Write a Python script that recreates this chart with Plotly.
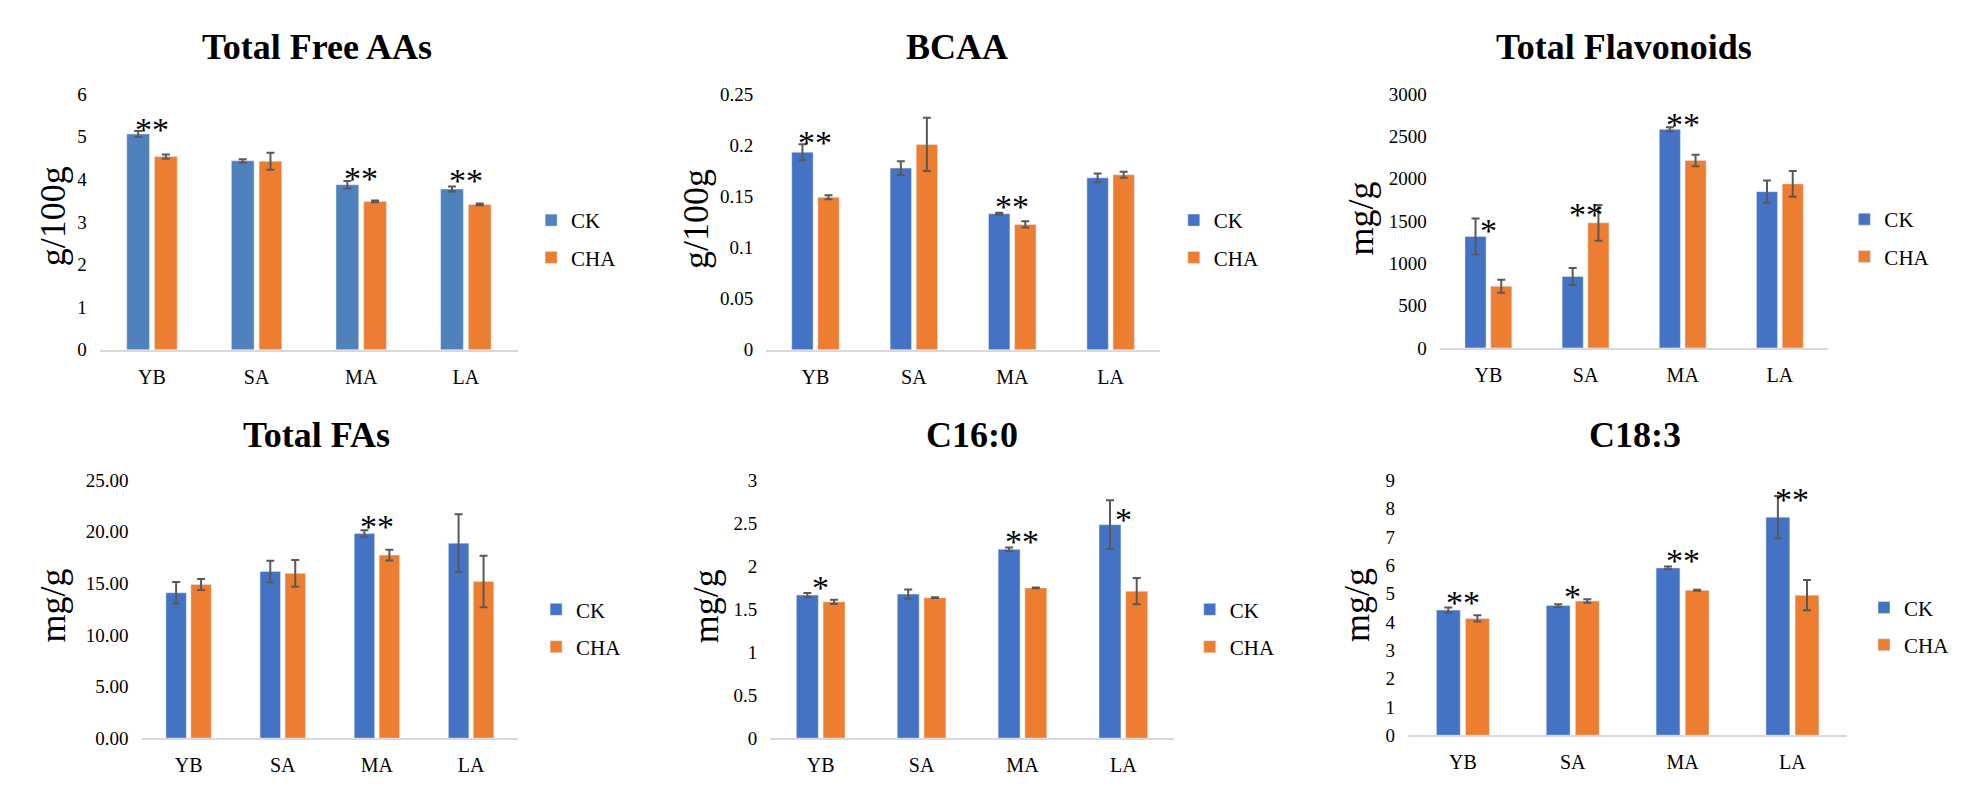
import plotly.graph_objects as go

# categories (growth stages)
categories = ["YB", "SA", "MA", "LA"]
series_names = ["CK", "CHA"]

# Total Free AAs (g/100g)
free_aa_ck = [5.06, 4.43, 3.87, 3.77]
free_aa_ck_err = [0.07, 0.04, 0.09, 0.06]
free_aa_cha = [4.53, 4.42, 3.48, 3.41]
free_aa_cha_err = [0.05, 0.20, 0.02, 0.02]
free_aa_sig = [("YB", "**", 5.41), ("MA", "**", 4.24), ("LA", "**", 4.20)]

# BCAA (g/100g)
bcaa_ck = [0.193, 0.1775, 0.133, 0.168]
bcaa_ck_err = [0.0078, 0.0068, 0.001, 0.0043]
bcaa_cha = [0.149, 0.2006, 0.1225, 0.171]
bcaa_cha_err = [0.002, 0.026, 0.003, 0.003]
bcaa_sig = [("YB", "**", 0.212), ("MA", "**", 0.1497)]

# Total Flavonoids (mg/g)
flav_ck = [1316, 844, 2581, 1845]
flav_ck_err = [213, 100, 25, 132]
flav_cha = [729, 1477, 2213, 1937]
flav_cha_err = [77, 211, 69, 153]
flav_sig = [("YB", "*", 1504), ("SA", "**", 1688), ("MA", "**", 2754)]

# Total FAs (mg/g)
fa_ck = [14.09, 16.16, 19.84, 18.90]
fa_ck_err = [1.05, 1.04, 0.31, 2.80]
fa_cha = [14.90, 15.97, 17.74, 15.19]
fa_cha_err = [0.53, 1.30, 0.52, 2.50]
fa_sig = [("MA", "**", 21.5)]

# C16:0 (mg/g)
c16_ck = [1.664, 1.675, 2.196, 2.483]
c16_ck_err = [0.025, 0.053, 0.02, 0.283]
c16_cha = [1.585, 1.634, 1.747, 1.709]
c16_cha_err = [0.025, 0.005, 0.005, 0.153]
c16_sig = [("YB", "*", 1.87), ("MA", "**", 2.40), ("LA", "*", 2.66)]

# C18:3 (mg/g)
c18_ck = [4.415, 4.575, 5.906, 7.695]
c18_ck_err = [0.09, 0.05, 0.05, 0.745]
c18_cha = [4.12, 4.736, 5.115, 4.943]
c18_cha_err = [0.11, 0.06, 0.02, 0.535]
c18_sig = [("YB", "**", 5.05), ("SA", "*", 5.24), ("MA", "**", 6.51), ("LA", "**", 8.68)]

titles = ["Total Free AAs", "BCAA", "Total Flavonoids", "Total FAs", "C16:0", "C18:3"]
units = ["g/100g", "g/100g", "mg/g", "mg/g", "mg/g", "mg/g"]
y_max = [6, 0.25, 3000, 25, 3, 9]
y_step = [1, 0.05, 500, 5, 0.5, 1]

panels = [
    (free_aa_ck, free_aa_ck_err, free_aa_cha, free_aa_cha_err, free_aa_sig),
    (bcaa_ck, bcaa_ck_err, bcaa_cha, bcaa_cha_err, bcaa_sig),
    (flav_ck, flav_ck_err, flav_cha, flav_cha_err, flav_sig),
    (fa_ck, fa_ck_err, fa_cha, fa_cha_err, fa_sig),
    (c16_ck, c16_ck_err, c16_cha, c16_cha_err, c16_sig),
    (c18_ck, c18_ck_err, c18_cha, c18_cha_err, c18_sig),
]

# page is 1963x797; the default 8px body margin surrounds the figure
PAGE_W, PAGE_H, PAD = 1963, 797, 8
W, H = PAGE_W - 2 * PAD, PAGE_H - 2 * PAD
FONT = "Liberation Serif, Times New Roman, serif"

# plot boxes in page pixels: left, right, top, bottom
boxes = [
    (100, 520, 86, 349),
    (769, 1164, 86, 349),
    (1445, 1835, 86, 347),
    (142, 520, 483, 748),
    (773, 1178, 483, 748),
    (1413, 1854, 483, 745),
]
title_pos = [(318, 38), (960, 38), (1630, 38), (318, 437), (975, 437), (1641, 437)]
ytitle_pos = [(53, 212), (699, 215), (1366, 214), (53, 612), (708, 612), (1362, 611)]
legend_pos = [(553, 212), (1198, 212), (1871, 211), (558, 612), (1214, 612), (1891, 610)]
ck_colors = ["#4F81BD", "#4472C4", "#4472C4", "#4472C4", "#4472C4", "#4472C4"]
cha_color = "#ED7D31"


def fx(v):
    return (v - PAD) / W


def fy(v):
    return 1 - (v - PAD) / H


fig = go.Figure()
annotations = []
layout = {}

for i, (ck, ck_err, cha, cha_err, sig) in enumerate(panels):
    n = "" if i == 0 else str(i + 1)
    xa, ya = "x" + n, "y" + n
    leg = "legend" + n
    for name, vals, errs, col in [
        (series_names[0], ck, ck_err, ck_colors[i]),
        (series_names[1], cha, cha_err, cha_color),
    ]:
        fig.add_trace(go.Bar(
            x=categories, y=vals, name=name, marker_color=col,
            error_y=dict(type="data", array=errs, color="#595959", thickness=2, width=4),
            xaxis=xa, yaxis=ya, legend=leg, legendgroup=name + n,
        ))

    l, r, t, b = boxes[i]
    layout["xaxis" + n] = dict(
        domain=[fx(l), fx(r)], anchor=ya, type="category", range=[-0.5, 3.5],
        showline=True, linecolor="#D9D9D9", linewidth=2, ticks="", showgrid=False,
        tickfont=dict(family=FONT, size=20, color="#000000"), ticklabelstandoff=8,
    )
    layout["yaxis" + n] = dict(
        domain=[fy(b), fy(t)], anchor=xa, range=[0, y_max[i]], dtick=y_step[i],
        showgrid=False, zeroline=False, showline=False, ticks="",
        tickformat=".2f" if i == 3 else None,
        tickfont=dict(family=FONT, size=19, color="#000000"), ticklabelstandoff=12,
    )
    lx, ly = legend_pos[i]
    layout[leg] = dict(
        x=fx(lx - 20), y=fy(ly - 17), xanchor="left", yanchor="top",
        font=dict(family=FONT, size=21, color="#000000"),
        bgcolor="rgba(0,0,0,0)", tracegroupgap=7, itemclick=False,
    )

    tx, ty = title_pos[i]
    annotations.append(dict(
        x=fx(tx), y=fy(ty), xref="paper", yref="paper", text="<b>%s</b>" % titles[i],
        showarrow=False, xanchor="center", yanchor="middle",
        font=dict(family=FONT, size=36, color="#000000"),
    ))
    ux, uy = ytitle_pos[i]
    annotations.append(dict(
        x=fx(ux), y=fy(uy), xref="paper", yref="paper", text=units[i], textangle=-90,
        showarrow=False, xanchor="center", yanchor="middle",
        font=dict(family=FONT, size=36, color="#000000"),
    ))
    for cat, label, yv in sig:
        annotations.append(dict(
            x=cat, y=yv, xref=xa, yref=ya, text=label, showarrow=False,
            xanchor="center", yanchor="middle", yshift=-10,
            font=dict(family=FONT, size=34, color="#000000"),
        ))

fig.update_layout(
    width=W, height=H, margin=dict(l=0, r=0, t=0, b=0),
    paper_bgcolor="white", plot_bgcolor="white",
    barmode="group", bargap=0.47, bargroupgap=0.18,
    annotations=annotations, **layout,
)

fig.write_html("out.html", config={"displayModeBar": False})
